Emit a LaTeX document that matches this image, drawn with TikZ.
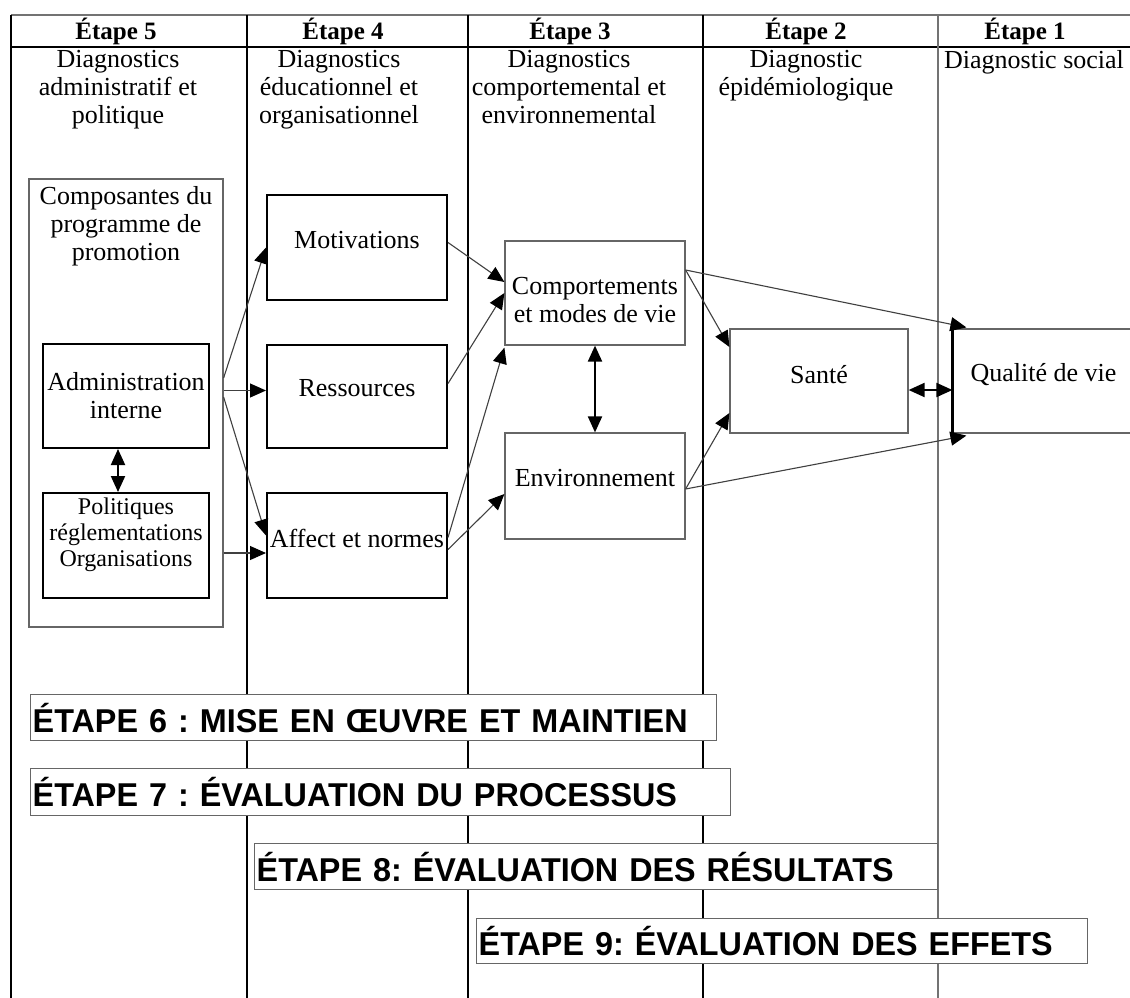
\documentclass[tikz,border=0pt]{standalone}
\usepackage{fontspec}
\setmainfont{Liberation Serif}
\newfontfamily\barfont{Liberation Sans}[FakeStretch=0.98]
\usetikzlibrary{arrows.meta,calc}
\frenchspacing
\begin{document}
\begin{tikzpicture}[x=1pt,y=-1pt,
  txt/.style={font=\fontsize{26}{28}\selectfont, align=center, inner sep=0pt},
  small/.style={font=\fontsize{24}{26}\selectfont, align=center, inner sep=0pt},
  head/.style={font=\fontsize{25}{27}\selectfont\bfseries, inner sep=0pt},
  bbox/.style={draw=black, line width=2pt, inner sep=0pt},
  gbox/.style={draw=black!60, line width=1.2pt, inner sep=0pt},
  tip/.tip={Triangle[length=16pt,width=14pt,color=black]},
  arr/.style={draw=black!75, line width=1.1pt, -tip},
  darr/.style={draw=black, line width=2pt, tip-tip},
  col/.style={draw=black, line width=2.2pt},
  gcol/.style={draw=black!55, line width=1.3pt},
  bar/.style={draw=black!60, line width=1.4pt, fill=white, inner xsep=2pt, inner ysep=0pt, align=left,
    font=\barfont\bfseries\fontsize{33}{36}\selectfont, anchor=north west},
]
\useasboundingbox (0,0) rectangle (1130,998);
\fill[white] (0,0) rectangle (1130,998);

% table grid
\draw[gcol] (11,15) -- (1130,15);
\draw[col] (11,47) -- (1130,47);
\draw[col] (11,15) -- (11,998);
\draw[col] (247,15) -- (247,998);
\draw[col] (468,15) -- (468,998);
\draw[col] (703,15) -- (703,998);
\draw[gcol] (938,15) -- (938,998);

% headers
\node[head] (h5) at (116,31) {Étape 5};
\node[head] (h4) at (343,31) {Étape 4};
\node[head] (h3) at (570,31) {Étape 3};
\node[head] (h2) at (806,31) {Étape 2};
\node[head] (h1) at (1025,31) {Étape 1};

\node[txt, anchor=north] (d5) at (118,50) {Diagnostics\\administratif et\\politique};
\node[txt, anchor=north] (d4) at (339,50) {Diagnostics\\éducationnel et\\organisationnel};
\node[txt, anchor=north] (d3) at (569,50) {Diagnostics\\comportemental et\\environnemental};
\node[txt, anchor=north] (d2) at (806,50) {Diagnostic\\épidémiologique};
\node[txt, anchor=north] (d1) at (1034,50) {Diagnostic social};

% boxes
\node[gbox, minimum width=194pt, minimum height=448pt,
  label={[txt,anchor=north,yshift=-8pt]north:{Composantes du\\programme de\\promotion}}] (comp) at (126,403) {};
\node[bbox, minimum width=166pt, minimum height=104pt,
  label={[txt]center:{Administration\\interne}}] (admin) at (126,396) {};
\node[bbox, minimum width=166pt, minimum height=105pt,
  label={[small,yshift=11pt]center:{Politiques\\réglementations\\Organisations}}] (polit) at (126,545.5) {};
\node[bbox, minimum width=180pt, minimum height=105pt,
  label={[txt,yshift=7pt]center:Motivations}] (motiv) at (357,247.5) {};
\node[bbox, minimum width=180pt, minimum height=103pt,
  label={[txt,yshift=8pt]center:Ressources}] (ress) at (357,396.5) {};
\node[bbox, minimum width=180pt, minimum height=105pt,
  label={[txt,yshift=7pt]center:Affect et normes}] (affect) at (357,545.5) {};
\node[gbox, minimum width=180pt, minimum height=104pt,
  label={[txt,yshift=-7pt]center:{Comportements\\et modes de vie}}] (comport) at (595,293) {};
\node[gbox, minimum width=180pt, minimum height=106pt,
  label={[txt,yshift=8pt]center:Environnement}] (env) at (595,486) {};
\node[gbox, minimum width=178pt, minimum height=104pt,
  label={[txt,yshift=6pt]center:Santé}] (sante) at (819,381) {};
\node[gbox, minimum width=181pt, minimum height=104pt,
  label={[txt,yshift=6pt]center:Qualité de vie}] (qual) at (1043.5,381) {};
\draw[draw=black, line width=2.2pt] ($(qual.north west)+(0,-6)$) -- ($(qual.south west)+(0,4)$);

% connectors
\draw[arr] ($(comp.east|-admin.center)+(0,-18)$) -- (motiv.west);
\draw[arr] ($(comp.east|-ress.west)+(0,-6)$) -- ($(ress.west)+(0,-6)$);
\draw[arr] ($(comp.east|-admin.center)+(0,1)$) -- ($(affect.west)+(0,-10)$);
\draw[arr] ($(comp.east|-affect.west)+(0,7.5)$) -- ($(affect.west)+(0,7.5)$);
\draw[arr] ($(motiv.east)+(0,-5)$) -- ($(comport.west)+(0,-11)$);
\draw[arr] ($(ress.east)+(0,-13)$) -- (comport.west);
\draw[arr] ($(affect.east)+(0,-8)$) -- ($(comport.south west)+(0,2)$);
\draw[arr] ($(affect.east)+(0,4)$) -- ($(env.west)+(0,8)$);
\draw[arr] ($(comport.east)+(0,-23)$) -- ($(sante.west)+(0,-34)$);
\draw[arr] ($(comport.east)+(0,-23)$) -- ($(qual.north west)+(14,-1)$);
\draw[arr] ($(env.east)+(0,3)$) -- ($(sante.west)+(0,32)$);
\draw[arr] ($(env.east)+(0,3)$) -- ($(qual.south west)+(14,2)$);
\draw[darr] ($(admin.south)+(-8,0)$) -- ($(polit.north)+(-8,0)$);
\draw[darr] (comport.south) -- (env.north);
\draw[darr] ($(sante.east)+(0,9)$) -- ($(qual.west)+(0,9)$);

% bars
\node[bar, minimum width=686pt, text width=682pt, minimum height=46pt] (e6) at (30,694) {ÉTAPE 6 : MISE EN ŒUVRE ET MAINTIEN};
\node[bar, minimum width=700pt, text width=696pt, minimum height=47pt] (e7) at (30,768) {ÉTAPE 7 : ÉVALUATION DU PROCESSUS};
\node[bar, minimum width=683pt, text width=679pt, minimum height=46pt] (e8) at (254,843) {ÉTAPE 8: ÉVALUATION DES RÉSULTATS};
\node[bar, minimum width=611pt, text width=607pt, minimum height=45pt] (e9) at (476,918) {ÉTAPE 9: ÉVALUATION DES EFFETS};
\end{tikzpicture}
\end{document}
